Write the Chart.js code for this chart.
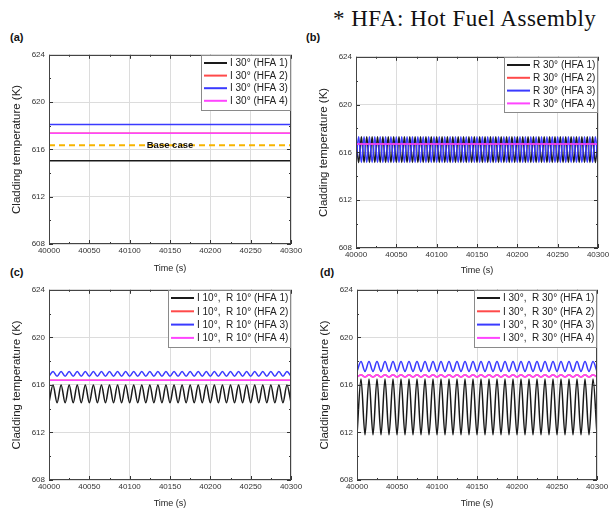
<!DOCTYPE html>
<html>
<head>
<meta charset="utf-8">
<script src="https://cdn.jsdelivr.net/npm/chart.js@4.4.1/dist/chart.umd.min.js"></script>
<style>
  body { margin: 0; background: #fff; }
  #wrap { position: relative; width: 616px; height: 510px; background: #fff; overflow: hidden; font-family: "Liberation Sans", Arial, sans-serif; }
  #wrap canvas { position: absolute; }
  .lab { position: absolute; font-weight: bold; font-size: 11px; color: #111; }
  #note { position: absolute; left: 333px; top: 7px; line-height: 23px; font-family: "Liberation Serif", "Times New Roman", serif; font-size: 23px; letter-spacing: 0.5px; color: #111; white-space: nowrap; }
</style>
</head>
<body>
<div id="wrap">
  <div id="note">* HFA: Hot Fuel Assembly</div>
  <div class="lab" style="left:10px;top:31px">(a)</div>
  <div class="lab" style="left:306px;top:31px">(b)</div>
  <div class="lab" style="left:10px;top:266px">(c)</div>
  <div class="lab" style="left:320px;top:266px">(d)</div>
  <canvas id="chartA" width="300" height="232" style="left:6px;top:46px"></canvas>
  <canvas id="chartB" width="300" height="232" style="left:313px;top:48px"></canvas>
  <canvas id="chartC" width="300" height="232" style="left:6px;top:281px"></canvas>
  <canvas id="chartD" width="298" height="232" style="left:314px;top:281px"></canvas>
</div>
<script>
// ejes
const xTicks = [40000, 40050, 40100, 40150, 40200, 40250, 40300];
const xMinorTicks = [40025, 40075, 40125, 40175, 40225, 40275];
const yTicks = [608, 612, 616, 620, 624];
const yMinorTicks = [610, 614, 618, 622];

// tiempos (s)
const timeFlat = [40000, 40300];
const timeFast = [
  40000, 40003.3, 40006.7, 40010, 40013.3, 40016.7, 40020, 40023.3, 40026.7,
  40030, 40033.3, 40036.7, 40040, 40043.3, 40046.7, 40050, 40053.3, 40056.7,
  40060, 40063.3, 40066.7, 40070, 40073.3, 40076.7, 40080, 40083.3, 40086.7,
  40090, 40093.3, 40096.7, 40100, 40103.3, 40106.7, 40110, 40113.3, 40116.7,
  40120, 40123.3, 40126.7, 40130, 40133.3, 40136.7, 40140, 40143.3, 40146.7,
  40150, 40153.3, 40156.7, 40160, 40163.3, 40166.7, 40170, 40173.3, 40176.7,
  40180, 40183.3, 40186.7, 40190, 40193.3, 40196.7, 40200, 40203.3, 40206.7,
  40210, 40213.3, 40216.7, 40220, 40223.3, 40226.7, 40230, 40233.3, 40236.7,
  40240, 40243.3, 40246.7, 40250, 40253.3, 40256.7, 40260, 40263.3, 40266.7,
  40270, 40273.3, 40276.7, 40280, 40283.3, 40286.7, 40290, 40293.3, 40296.7,
  40300
];
const timeSlow = [
  40000, 40005, 40010, 40015, 40020, 40025, 40030, 40035, 40040, 40045,
  40050, 40055, 40060, 40065, 40070, 40075, 40080, 40085, 40090, 40095,
  40100, 40105, 40110, 40115, 40120, 40125, 40130, 40135, 40140, 40145,
  40150, 40155, 40160, 40165, 40170, 40175, 40180, 40185, 40190, 40195,
  40200, 40205, 40210, 40215, 40220, 40225, 40230, 40235, 40240, 40245,
  40250, 40255, 40260, 40265, 40270, 40275, 40280, 40285, 40290, 40295,
  40300
];

// (a) I 30
const hfa1A = [615.05, 615.05];
const hfa2A = [617.36, 617.36];
const hfa3A = [618.11, 618.11];
const hfa4A = [617.36, 617.36];
const baseCaseA = [616.36, 616.36];

// (b) R 30
const hfa1B = [
  617.3, 615.15, 617.3, 615.15, 617.3, 615.15, 617.3, 615.15, 617.3, 615.15,
  617.3, 615.15, 617.3, 615.15, 617.3, 615.15, 617.3, 615.15, 617.3, 615.15,
  617.3, 615.15, 617.3, 615.15, 617.3, 615.15, 617.3, 615.15, 617.3, 615.15,
  617.3, 615.15, 617.3, 615.15, 617.3, 615.15, 617.3, 615.15, 617.3, 615.15,
  617.3, 615.15, 617.3, 615.15, 617.3, 615.15, 617.3, 615.15, 617.3, 615.15,
  617.3, 615.15, 617.3, 615.15, 617.3, 615.15, 617.3, 615.15, 617.3, 615.15,
  617.3, 615.15, 617.3, 615.15, 617.3, 615.15, 617.3, 615.15, 617.3, 615.15,
  617.3, 615.15, 617.3, 615.15, 617.3, 615.15, 617.3, 615.15, 617.3, 615.15,
  617.3, 615.15, 617.3, 615.15, 617.3, 615.15, 617.3, 615.15, 617.3, 615.15,
  617.3
];
const hfa2B = [616.7, 616.7];
const hfa3B = [
  615.15, 617.3, 615.15, 617.3, 615.15, 617.3, 615.15, 617.3, 615.15, 617.3,
  615.15, 617.3, 615.15, 617.3, 615.15, 617.3, 615.15, 617.3, 615.15, 617.3,
  615.15, 617.3, 615.15, 617.3, 615.15, 617.3, 615.15, 617.3, 615.15, 617.3,
  615.15, 617.3, 615.15, 617.3, 615.15, 617.3, 615.15, 617.3, 615.15, 617.3,
  615.15, 617.3, 615.15, 617.3, 615.15, 617.3, 615.15, 617.3, 615.15, 617.3,
  615.15, 617.3, 615.15, 617.3, 615.15, 617.3, 615.15, 617.3, 615.15, 617.3,
  615.15, 617.3, 615.15, 617.3, 615.15, 617.3, 615.15, 617.3, 615.15, 617.3,
  615.15, 617.3, 615.15, 617.3, 615.15, 617.3, 615.15, 617.3, 615.15, 617.3,
  615.15, 617.3, 615.15, 617.3, 615.15, 617.3, 615.15, 617.3, 615.15, 617.3,
  615.15
];
const hfa4B = [616.7, 616.7];

// (c) I 10, R 10
const hfa1C = [
  614.5, 616.0, 614.5, 616.0, 614.5, 616.0, 614.5, 616.0, 614.5, 616.0,
  614.5, 616.0, 614.5, 616.0, 614.5, 616.0, 614.5, 616.0, 614.5, 616.0,
  614.5, 616.0, 614.5, 616.0, 614.5, 616.0, 614.5, 616.0, 614.5, 616.0,
  614.5, 616.0, 614.5, 616.0, 614.5, 616.0, 614.5, 616.0, 614.5, 616.0,
  614.5, 616.0, 614.5, 616.0, 614.5, 616.0, 614.5, 616.0, 614.5, 616.0,
  614.5, 616.0, 614.5, 616.0, 614.5, 616.0, 614.5, 616.0, 614.5, 616.0,
  614.5
];
const hfa2C = [616.4, 616.4];
const hfa3C = [
  616.72, 617.13, 616.72, 617.13, 616.72, 617.13, 616.72, 617.13, 616.72, 617.13,
  616.72, 617.13, 616.72, 617.13, 616.72, 617.13, 616.72, 617.13, 616.72, 617.13,
  616.72, 617.13, 616.72, 617.13, 616.72, 617.13, 616.72, 617.13, 616.72, 617.13,
  616.72, 617.13, 616.72, 617.13, 616.72, 617.13, 616.72, 617.13, 616.72, 617.13,
  616.72, 617.13, 616.72, 617.13, 616.72, 617.13, 616.72, 617.13, 616.72, 617.13,
  616.72, 617.13, 616.72, 617.13, 616.72, 617.13, 616.72, 617.13, 616.72, 617.13,
  616.72
];
const hfa4C = [616.4, 616.4];

// (d) I 30, R 30
const hfa1D = [
  611.8, 616.5, 611.8, 616.5, 611.8, 616.5, 611.8, 616.5, 611.8, 616.5,
  611.8, 616.5, 611.8, 616.5, 611.8, 616.5, 611.8, 616.5, 611.8, 616.5,
  611.8, 616.5, 611.8, 616.5, 611.8, 616.5, 611.8, 616.5, 611.8, 616.5,
  611.8, 616.5, 611.8, 616.5, 611.8, 616.5, 611.8, 616.5, 611.8, 616.5,
  611.8, 616.5, 611.8, 616.5, 611.8, 616.5, 611.8, 616.5, 611.8, 616.5,
  611.8, 616.5, 611.8, 616.5, 611.8, 616.5, 611.8, 616.5, 611.8, 616.5,
  611.8
];
const hfa2D = [
  616.66, 616.86, 616.66, 616.86, 616.66, 616.86, 616.66, 616.86, 616.66, 616.86,
  616.66, 616.86, 616.66, 616.86, 616.66, 616.86, 616.66, 616.86, 616.66, 616.86,
  616.66, 616.86, 616.66, 616.86, 616.66, 616.86, 616.66, 616.86, 616.66, 616.86,
  616.66, 616.86, 616.66, 616.86, 616.66, 616.86, 616.66, 616.86, 616.66, 616.86,
  616.66, 616.86, 616.66, 616.86, 616.66, 616.86, 616.66, 616.86, 616.66, 616.86,
  616.66, 616.86, 616.66, 616.86, 616.66, 616.86, 616.66, 616.86, 616.66, 616.86,
  616.66
];
const hfa3D = [
  617.13, 617.96, 617.13, 617.96, 617.13, 617.96, 617.13, 617.96, 617.13, 617.96,
  617.13, 617.96, 617.13, 617.96, 617.13, 617.96, 617.13, 617.96, 617.13, 617.96,
  617.13, 617.96, 617.13, 617.96, 617.13, 617.96, 617.13, 617.96, 617.13, 617.96,
  617.13, 617.96, 617.13, 617.96, 617.13, 617.96, 617.13, 617.96, 617.13, 617.96,
  617.13, 617.96, 617.13, 617.96, 617.13, 617.96, 617.13, 617.96, 617.13, 617.96,
  617.13, 617.96, 617.13, 617.96, 617.13, 617.96, 617.13, 617.96, 617.13, 617.96,
  617.13
];
const hfa4D = [
  616.66, 616.86, 616.66, 616.86, 616.66, 616.86, 616.66, 616.86, 616.66, 616.86,
  616.66, 616.86, 616.66, 616.86, 616.66, 616.86, 616.66, 616.86, 616.66, 616.86,
  616.66, 616.86, 616.66, 616.86, 616.66, 616.86, 616.66, 616.86, 616.66, 616.86,
  616.66, 616.86, 616.66, 616.86, 616.66, 616.86, 616.66, 616.86, 616.66, 616.86,
  616.66, 616.86, 616.66, 616.86, 616.66, 616.86, 616.66, 616.86, 616.66, 616.86,
  616.66, 616.86, 616.66, 616.86, 616.66, 616.86, 616.66, 616.86, 616.66, 616.86,
  616.66
];

const fontFam = '"Liberation Sans", Arial, sans-serif';
const NEGRO = '#1a1a1a', ROJO = '#ff4a4a', AZUL = '#3a3aff', ROSA = '#ff45ff', NARANJA = '#f7b500';

function serie(label, t, v, color, order, extra) {
  return Object.assign({
    label,
    data: t.map((x, i) => ({ x, y: v[i] })),
    borderColor: color,
    backgroundColor: color,
    borderWidth: 1.5,
    pointRadius: 0,
    cubicInterpolationMode: 'monotone',
    order
  }, extra || {});
}

// marco, ticks hacia adentro y etiqueta "Base case"
const decoPanel = {
  id: 'decoPanel',
  afterDatasetsDraw(chart, args, opts) {
    const { ctx, chartArea: a, scales: { x, y } } = chart;
    ctx.save();
    if (opts.baseText) {
      ctx.font = 'bold 9.5px ' + fontFam;
      ctx.fillStyle = '#111';
      ctx.textAlign = 'center';
      ctx.textBaseline = 'middle';
      ctx.fillText(opts.baseText, x.getPixelForValue(opts.baseX), y.getPixelForValue(opts.baseY));
    }
    ctx.strokeStyle = '#333';
    ctx.lineWidth = 1;
    ctx.beginPath();
    const tx = (v, len) => {
      const px = Math.round(x.getPixelForValue(v)) + 0.5;
      ctx.moveTo(px, a.bottom); ctx.lineTo(px, a.bottom - len);
      ctx.moveTo(px, a.top); ctx.lineTo(px, a.top + len);
    };
    const ty = (v, len) => {
      const py = Math.round(y.getPixelForValue(v)) + 0.5;
      ctx.moveTo(a.left, py); ctx.lineTo(a.left + len, py);
      ctx.moveTo(a.right, py); ctx.lineTo(a.right - len, py);
    };
    xTicks.forEach(v => tx(v, 4));
    xMinorTicks.forEach(v => tx(v, 2));
    yTicks.forEach(v => ty(v, 4));
    yMinorTicks.forEach(v => ty(v, 2));
    ctx.stroke();
    ctx.strokeStyle = '#444';
    ctx.strokeRect(Math.round(a.left) + 0.5, Math.round(a.top) + 0.5, Math.round(a.width) - 1, Math.round(a.height) - 1);
    ctx.restore();
  }
};

// leyenda dentro del area
const leyendaDentro = {
  id: 'leyendaDentro',
  afterDraw(chart, args, opts) {
    const { ctx, chartArea: a } = chart;
    const items = chart.data.datasets.filter(d => !d.sinLeyenda);
    ctx.save();
    ctx.font = '10px ' + fontFam;
    const tw = Math.max(...items.map(d => ctx.measureText(d.label).width));
    const w = Math.round(32 + tw);
    const h = Math.round(17 + (items.length - 1) * opts.rowH);
    const left = Math.round(a.right) - w;
    const top = Math.round(a.top);
    ctx.fillStyle = '#fff';
    ctx.fillRect(left, top, w, h);
    ctx.strokeStyle = '#8a8a8a';
    ctx.lineWidth = 1;
    ctx.strokeRect(left + 0.5, top + 0.5, w - 1, h);
    items.forEach((d, i) => {
      const cy = top + 8 + i * opts.rowH;
      ctx.strokeStyle = d.borderColor;
      ctx.lineWidth = 2;
      ctx.beginPath();
      ctx.moveTo(left + 3, cy);
      ctx.lineTo(left + 26, cy);
      ctx.stroke();
      ctx.fillStyle = '#222';
      ctx.textAlign = 'left';
      ctx.textBaseline = 'middle';
      ctx.fillText(d.label, left + 29, cy + 0.5);
    });
    ctx.restore();
  }
};

function crearPanel(id, datasets, altoX, rowH, deco) {
  return new Chart(document.getElementById(id), {
    type: 'line',
    data: { datasets },
    plugins: [decoPanel, leyendaDentro],
    options: {
      responsive: false,
      animation: false,
      events: [],
      layout: { padding: { top: 6, right: 15, left: 0, bottom: 0 } },
      plugins: {
        legend: { display: false },
        tooltip: { enabled: false },
        decoPanel: deco || {},
        leyendaDentro: { rowH }
      },
      scales: {
        x: {
          type: 'linear', min: 40000, max: 40300,
          afterBuildTicks: s => { s.ticks = xTicks.map(v => ({ value: v })); },
          afterFit: s => { s.height = altoX; },
          ticks: { font: { size: 8, family: fontFam }, color: '#333', padding: 2, maxRotation: 0, autoSkip: false, callback: v => String(v) },
          grid: { color: '#dcdcdc', drawTicks: false },
          border: { display: false },
          title: { display: true, text: 'Time (s)', color: '#222', font: { size: 9, family: fontFam }, padding: { top: 4, bottom: 4 } }
        },
        y: {
          type: 'linear', min: 608, max: 624,
          afterBuildTicks: s => { s.ticks = yTicks.map(v => ({ value: v })); },
          afterFit: s => { s.width = 43; },
          ticks: { font: { size: 8, family: fontFam }, color: '#333', padding: 4, callback: v => String(v) },
          grid: { color: '#dcdcdc', drawTicks: false },
          border: { display: false },
          title: { display: true, text: 'Cladding temperature (K)', color: '#222', font: { size: 11.5, family: fontFam }, padding: { top: 4, bottom: 4 } }
        }
      }
    }
  });
}

crearPanel('chartA', [
  serie('I 30° (HFA 1)', timeFlat, hfa1A, NEGRO, 3),
  serie('I 30° (HFA 2)', timeFlat, hfa2A, ROJO, 2),
  serie('I 30° (HFA 3)', timeFlat, hfa3A, AZUL, 1),
  serie('I 30° (HFA 4)', timeFlat, hfa4A, ROSA, 0),
  serie('Base case', timeFlat, baseCaseA, NARANJA, 4, { borderDash: [6, 4], borderWidth: 2, sinLeyenda: true })
], 34, 12.6, { baseText: 'Base case', baseX: 40150, baseY: 616.36 });

crearPanel('chartB', [
  serie('R 30° (HFA 1)', timeFast, hfa1B, NEGRO, 3),
  serie('R 30° (HFA 2)', timeFlat, hfa2B, ROJO, 2),
  serie('R 30° (HFA 3)', timeFast, hfa3B, AZUL, 1),
  serie('R 30° (HFA 4)', timeFlat, hfa4B, ROSA, 0)
], 32, 12.8);

crearPanel('chartC', [
  serie('I 10°,  R 10° (HFA 1)', timeSlow, hfa1C, NEGRO, 3),
  serie('I 10°,  R 10° (HFA 2)', timeFlat, hfa2C, ROJO, 2),
  serie('I 10°,  R 10° (HFA 3)', timeSlow, hfa3C, AZUL, 1),
  serie('I 10°,  R 10° (HFA 4)', timeFlat, hfa4C, ROSA, 0)
], 33, 13.3);

crearPanel('chartD', [
  serie('I 30°,  R 30° (HFA 1)', timeSlow, hfa1D, NEGRO, 3),
  serie('I 30°,  R 30° (HFA 2)', timeSlow, hfa2D, ROJO, 2),
  serie('I 30°,  R 30° (HFA 3)', timeSlow, hfa3D, AZUL, 1),
  serie('I 30°,  R 30° (HFA 4)', timeSlow, hfa4D, ROSA, 0)
], 33, 13.3);
</script>
</body>
</html>
